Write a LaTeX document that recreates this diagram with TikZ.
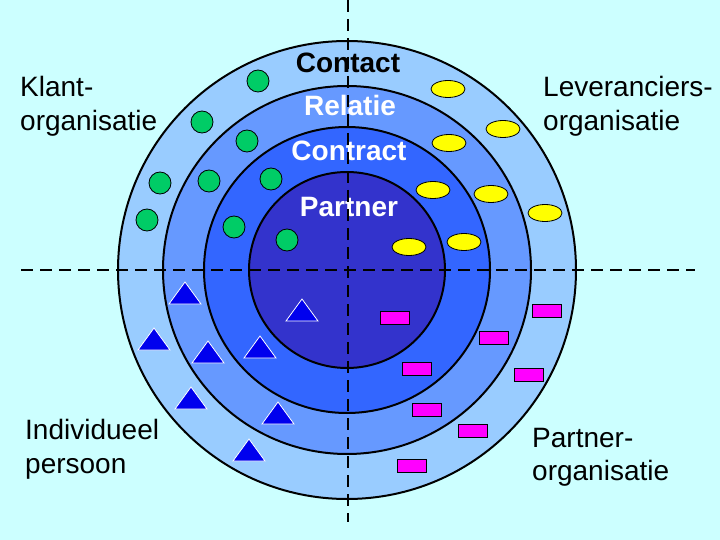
\documentclass[tikz,border=0pt]{standalone}
\usepackage{fontspec}
\setmainfont{Liberation Sans}
\usetikzlibrary{shapes.geometric}
\definecolor{bg}{HTML}{CCFFFF}
\definecolor{ringA}{HTML}{99CCFF}
\definecolor{ringB}{HTML}{6699FF}
\definecolor{ringC}{HTML}{3366FF}
\definecolor{ringD}{HTML}{3333CC}
\definecolor{dotgreen}{HTML}{00CC66}
\definecolor{triblue}{HTML}{0000EE}
\definecolor{magbox}{HTML}{FF00FF}
\definecolor{yelov}{HTML}{FFFF00}
\tikzset{
  ringline/.style={draw=black, line width=2pt},
  greendot/.style={circle, draw=black, line width=0.8pt, fill=dotgreen, minimum size=22pt, inner sep=0pt},
  yellowoval/.style={ellipse, draw=black, line width=0.8pt, fill=yelov, minimum width=34pt, minimum height=17pt, inner sep=0pt},
  magrect/.style={rectangle, draw=black, line width=0.8pt, fill=magbox, minimum width=29pt, minimum height=13pt, inner sep=0pt},
  trimark/.style={draw=white, line width=0.8pt, fill=triblue},
  ringlabel/.style={font=\fontsize{28}{34}\selectfont\bfseries, anchor=base, inner sep=0pt},
  sidelabel/.style={font=\fontsize{28}{34}\selectfont, anchor=base west, inner sep=0pt, text=black},
  axis/.style={draw=black, line width=2pt, dash pattern=on 12pt off 7pt}
}
\begin{document}
\begin{tikzpicture}[x=1pt,y=-1pt]
\fill[bg] (0,0) rectangle (720,540);
\useasboundingbox (0,0) rectangle (720,540);
\coordinate (c) at (347,270);
\draw[ringline, fill=ringA] (c) circle[radius=229pt];
\draw[ringline, fill=ringB] (c) circle[radius=184pt];
\draw[ringline, fill=ringC] (c) circle[radius=143pt];
\draw[ringline, fill=ringD] (c) circle[radius=98pt];
% green dots
\foreach \x/\y [count=\i] in {258/81,202/122,247/141,160/183,209/181,271/179,147/220,234/227,287/240}
  \node[greendot] (g\i) at (\x,\y) {};
% yellow ovals
\foreach \x/\y [count=\i] in {448/89,503/129,449/143,433/190,491/194,545/213,409/247,464/242}
  \node[yellowoval] (y\i) at (\x,\y) {};
% magenta rectangles
\foreach \x/\y [count=\i] in {395/318,494/338,547/311,417/369,529/375,427/410,473/431,412/466}
  \node[magrect] (m\i) at (\x,\y) {};
% triangles
\foreach \x/\y in {185/282,302/299,154/328,208/341,260/336,191/387,278/402,249/439}
  \draw[trimark] ({\x-16},{\y+22}) -- (\x,\y) -- ({\x+16},{\y+22}) -- cycle;
% ring labels
\node[ringlabel, text=black] (lcontact) at (348,73) {Contact};
\node[ringlabel, text=white] (lrelatie) at (350,116) {Relatie};
\node[ringlabel, text=white] (lcontract) at (349,161) {Contract};
\node[ringlabel, text=white] (lpartner) at (349,216) {Partner};
% side labels
\node[sidelabel] (k1) at (20,97) {Klant-};
\node[sidelabel] (k2) at (20,131) {organisatie};
\node[sidelabel] (l1) at (543,97) {Leveranciers-};
\node[sidelabel] (l2) at (543,131) {organisatie};
\node[sidelabel] (i1) at (25,439) {Individueel};
\node[sidelabel] (i2) at (25,473) {persoon};
\node[sidelabel] (p1) at (532,447) {Partner-};
\node[sidelabel] (p2) at (532,480) {organisatie};
% axes
\coordinate (vtop) at (348,0);
\coordinate (vbot) at (348,522);
\coordinate (hleft) at (21,270);
\coordinate (hright) at (695,270);
\draw[axis] (vtop) -- (vbot);
\draw[axis] (hleft) -- (hright);
\end{tikzpicture}
\end{document}
